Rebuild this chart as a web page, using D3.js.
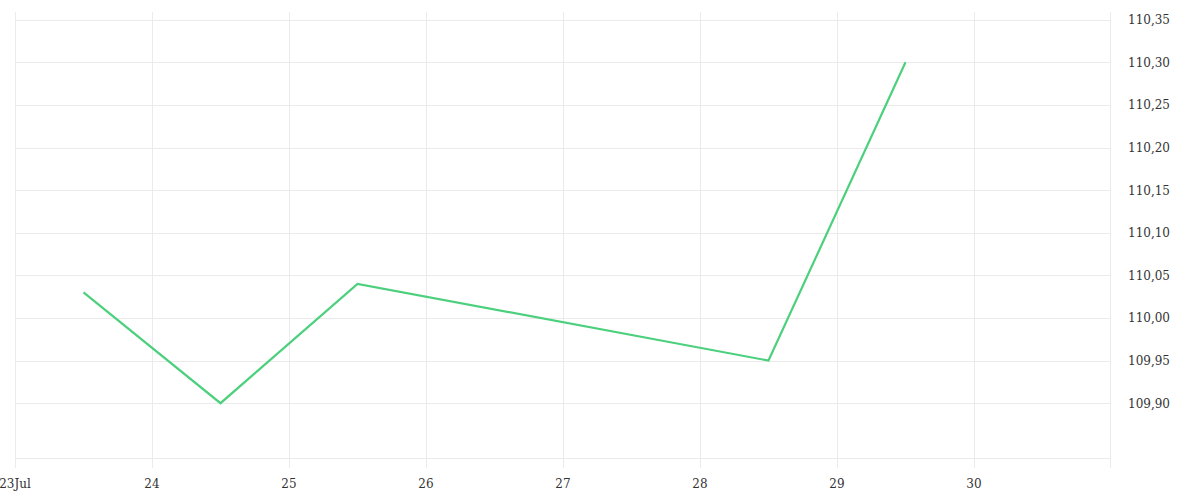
<!DOCTYPE html>
<html><head><meta charset="utf-8">
<script src="https://cdn.jsdelivr.net/npm/d3@7"></script>
<style>body{margin:0;background:#fff}svg{display:block}
text{font-family:"DejaVu Serif",serif;font-size:12px;fill:#333}</style>
</head><body>
<svg id="chart" width="1200" height="500"></svg>
<script>
const dates = ["2024-07-23T12:00","2024-07-24T12:00","2024-07-25T12:00","2024-07-28T12:00","2024-07-29T12:00"];
const values = [110.03, 109.90, 110.04, 109.95, 110.30];
const yTicks = [109.90, 109.95, 110.00, 110.05, 110.10, 110.15, 110.20, 110.25, 110.30, 110.35];
const xTickDays = ["2024-07-23","2024-07-24","2024-07-25","2024-07-26","2024-07-27","2024-07-28","2024-07-29","2024-07-30"];

const parse = d3.timeParse("%Y-%m-%dT%H:%M");
const parseDay = d3.timeParse("%Y-%m-%d");
const data = dates.map((d,i)=>({t:parse(d), v:values[i]}));
const xt = xTickDays.map(parseDay);

const svg = d3.select("#chart");
const L=15, R=1110, T=12, B=458;
const x = d3.scaleTime().domain([parseDay("2024-07-23"), parseDay("2024-07-31")]).range([L, R+1]);
const y = d3.scaleLinear().domain([109.8357, 110.359]).range([B, T]);
const grid = "#ebebeb";

svg.append("g").selectAll("line").data(yTicks).join("line")
  .attr("x1",L).attr("x2",R).attr("y1",d=>Math.round(y(d))+0.5).attr("y2",d=>Math.round(y(d))+0.5)
  .attr("stroke",grid);
svg.append("line").attr("x1",L).attr("x2",R).attr("y1",B+0.5).attr("y2",B+0.5).attr("stroke",grid);
svg.append("g").selectAll("line").data(xt).join("line")
  .attr("x1",d=>Math.round(x(d))+0.5).attr("x2",d=>Math.round(x(d))+0.5)
  .attr("y1",T).attr("y2",B+10).attr("stroke",grid);
svg.append("line").attr("x1",R+0.5).attr("x2",R+0.5).attr("y1",T).attr("y2",B+10).attr("stroke",grid);

const fmtDay = d3.timeFormat("%-d"), fmtFirst = d3.timeFormat("%-d%b");
svg.append("g").selectAll("text").data(xt).join("text")
  .attr("x",d=>x(d)).attr("y",488).attr("text-anchor","middle")
  .text((d,i)=> i===0 ? fmtFirst(d) : fmtDay(d));

const fmtY = v => d3.format(".2f")(v).replace(".", ",");
svg.append("g").selectAll("text").data(yTicks).join("text")
  .attr("x",1128).attr("y",d=>y(d)+4.5).attr("text-anchor","start")
  .text(fmtY);

svg.append("path").datum(data)
  .attr("d", d3.line().x(d=>x(d.t)).y(d=>y(d.v)))
  .attr("fill","none").attr("stroke","#4cd07d").attr("stroke-width",2.2);
</script>
</body></html>
